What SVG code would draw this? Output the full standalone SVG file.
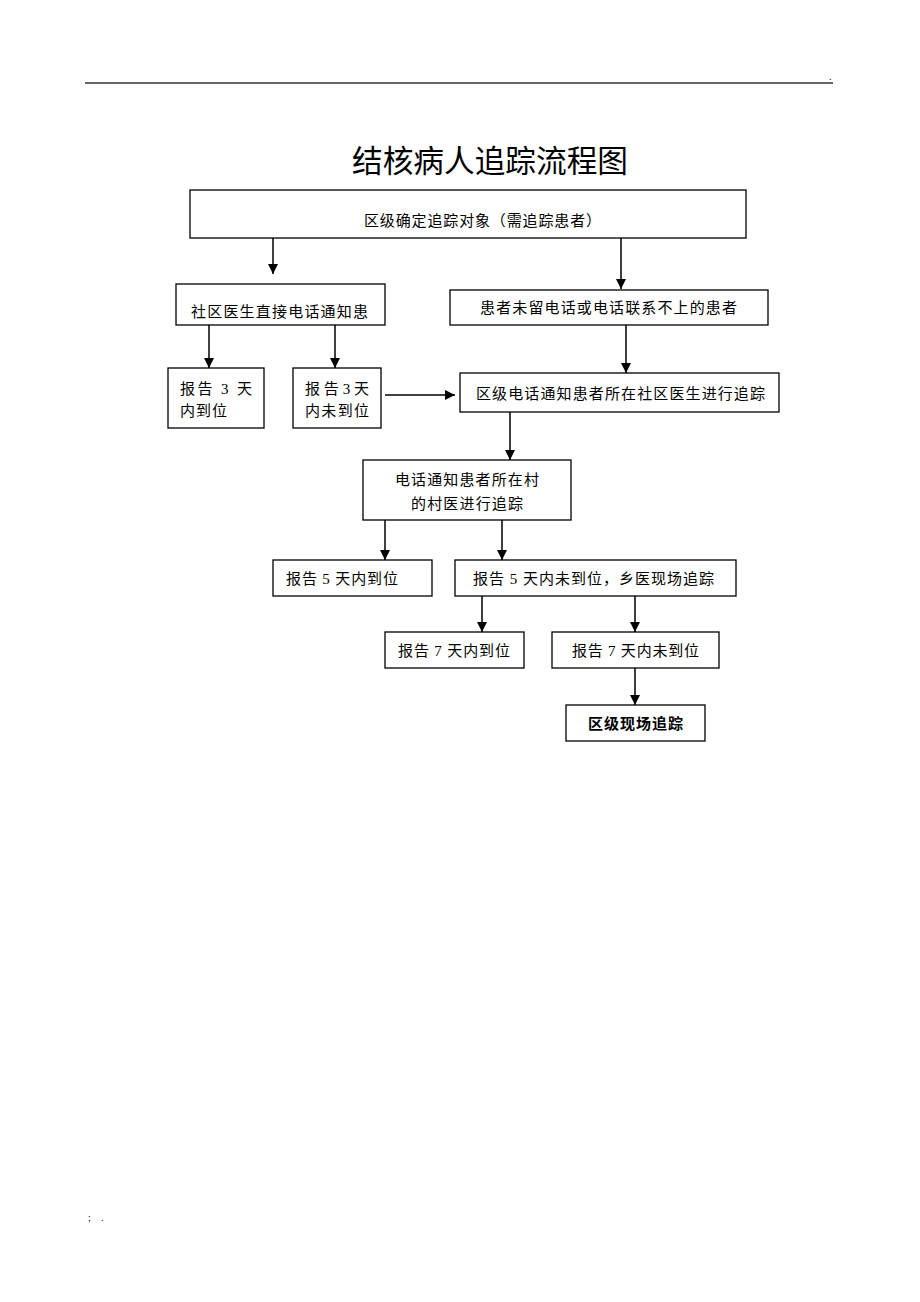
<svg xmlns="http://www.w3.org/2000/svg" width="920" height="1302" viewBox="0 0 920 1302">
<style>
.box{fill:#fff;stroke:#000;stroke-width:1.3}
.t{font-family:"Liberation Serif","Noto Sans CJK SC",serif;font-size:15px;fill:#000}
.b{font-family:"Noto Sans CJK SC",sans-serif;font-size:15px;font-weight:bold;fill:#000}
.title{font-family:"Noto Sans CJK SC",sans-serif;font-size:31px;font-weight:normal;fill:#000}
.c{stroke:#000;stroke-width:1.5;fill:none;marker-end:url(#ah)}
.small{font-family:"Liberation Serif",serif;font-size:10px;fill:#000}
</style>
<defs>
<marker id="ah" markerWidth="10" markerHeight="10" refX="10" refY="5" orient="auto" markerUnits="userSpaceOnUse">
<path d="M0,0 L10,5 L0,10 z" fill="#000"/>
</marker>
</defs>
<rect width="920" height="1302" fill="#fff"/>
<line x1="85" y1="83" x2="833" y2="83" stroke="#333" stroke-width="1.6"/>
<text class="small" x="829" y="80">.</text>
<text class="title" x="352" y="172" textLength="276" lengthAdjust="spacingAndGlyphs">结核病人追踪流程图</text>

<g id="n1"><rect class="box" x="190" y="190" width="556" height="48"/><text class="t" x="364" y="225.5" textLength="237">区级确定追踪对象（需追踪患者）</text></g>
<g id="n2"><rect class="box" x="176" y="284" width="209" height="41"/><text class="t" x="191" y="317" textLength="177">社区医生直接电话通知患</text></g>
<g id="n3"><rect class="box" x="450" y="290" width="318" height="35"/><text class="t" x="480" y="313" textLength="257">患者未留电话或电话联系不上的患者</text></g>
<g id="n4"><rect class="box" x="168" y="368" width="96" height="60"/><text class="t" x="180" y="393.5" textLength="72">报告 3 天</text><text class="t" x="180" y="415.5" textLength="47">内到位</text></g>
<g id="n5"><rect class="box" x="293" y="368" width="88" height="60"/><text class="t" x="305" y="393.5" textLength="64">报告3天</text><text class="t" x="305" y="415.5" textLength="64">内未到位</text></g>
<g id="n6"><rect class="box" x="460" y="373" width="319" height="39"/><text class="t" x="476" y="398.5" textLength="289">区级电话通知患者所在社区医生进行追踪</text></g>
<g id="n7"><rect class="box" x="363" y="460" width="208" height="60"/><text class="t" x="395" y="484.5" textLength="144">电话通知患者所在村</text><text class="t" x="411" y="508.5" textLength="112">的村医进行追踪</text></g>
<g id="n8"><rect class="box" x="273" y="560" width="159" height="36"/><text class="t" x="286" y="583.5" textLength="112">报告 5 天内到位</text></g>
<g id="n9"><rect class="box" x="455" y="560" width="281" height="36"/><text class="t" x="473" y="583.5" textLength="241">报告 5 天内未到位，乡医现场追踪</text></g>
<g id="n10"><rect class="box" x="385" y="632" width="139" height="36"/><text class="t" x="398" y="655.5" textLength="112">报告 7 天内到位</text></g>
<g id="n11"><rect class="box" x="552" y="632" width="167" height="36"/><text class="t" x="572" y="655.5" textLength="127">报告 7 天内未到位</text></g>
<g id="n12"><rect class="box" x="566" y="705" width="139" height="36"/><text class="b" x="588" y="728.5" textLength="95">区级现场追踪</text></g>

<g id="connectors">
<line class="c" x1="273" y1="238" x2="273" y2="274"/>
<line class="c" x1="621" y1="238" x2="621" y2="289"/>
<line class="c" x1="209" y1="325" x2="209" y2="368"/>
<line class="c" x1="335" y1="325" x2="335" y2="368"/>
<line class="c" x1="626" y1="325" x2="626" y2="373"/>
<line class="c" x1="385" y1="395" x2="455" y2="395"/>
<line class="c" x1="510" y1="412" x2="510" y2="460"/>
<line class="c" x1="385" y1="520" x2="385" y2="560"/>
<line class="c" x1="502" y1="520" x2="502" y2="560"/>
<line class="c" x1="482" y1="596" x2="482" y2="632"/>
<line class="c" x1="635" y1="596" x2="635" y2="632"/>
<line class="c" x1="635" y1="668" x2="635" y2="705"/>
</g>

<text class="small" x="88" y="1221">;</text>
<text class="small" x="101" y="1221">.</text>
</svg>
